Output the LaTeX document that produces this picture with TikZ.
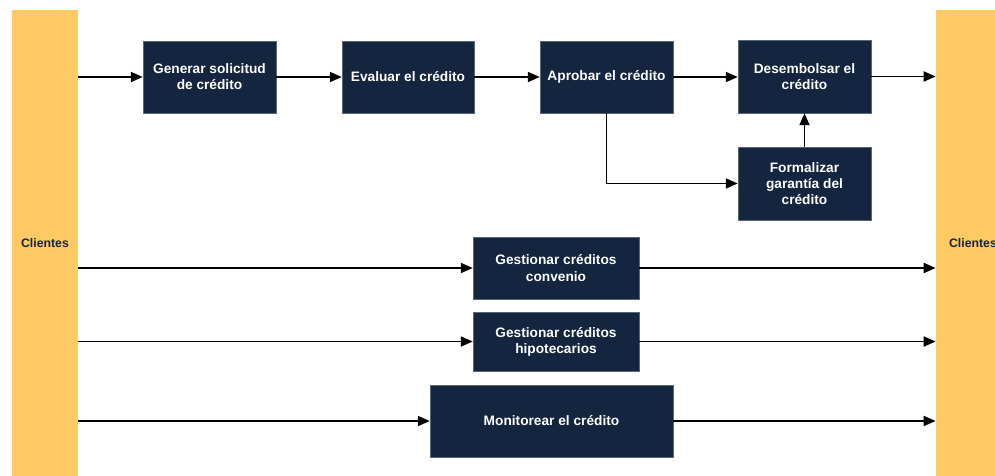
\documentclass[tikz,border=0pt]{standalone}
\usepackage{fontspec}
\setmainfont{Liberation Sans}
\usetikzlibrary{arrows.meta}
\definecolor{navy}{HTML}{13253F}
\definecolor{bar}{HTML}{FFC964}
\begin{document}
\begin{tikzpicture}[x=0.02cm,y=-0.02cm,
  proc/.style={fill=navy,draw=navy!70!white,line width=0.01cm,text=white,align=center,
    font=\fontsize{7.8}{9.2}\selectfont\bfseries,inner sep=0pt},
  client/.style={fill=bar,draw=none,minimum width=1.32cm,minimum height=9.32cm,inner sep=0pt,
    text=navy,font=\fontsize{7}{8}\selectfont\bfseries},
  flow/.style={line width=0.038cm,-{Triangle[length=0.24cm,width=0.2cm]}}]
  \useasboundingbox (0,0) rectangle (995,476);
  
  % Drawing client bars
  \node [client] (cl) at (45,243) {Clientes};
  \node [client,minimum width=1.48cm] (cr) at (973,243) {Clientes};
  
  % Drawing process boxes
  \node [proc,minimum width=2.66cm,minimum height=1.44cm] (gen) at (209.5,77) {Generar solicitud\\de cr\'edito};
  \node [proc,minimum width=2.64cm,minimum height=1.44cm] (eva) at (408,77) {Evaluar el cr\'edito};
  \node [proc,minimum width=2.66cm,minimum height=1.44cm] (apr) at (606.5,77) {Aprobar el cr\'edito};
  \node [proc,minimum width=2.66cm,minimum height=1.46cm] (des) at (804.5,76.5) {Desembolsar el\\cr\'edito};
  \node [proc,minimum width=2.66cm,minimum height=1.46cm] (for) at (804.5,183.5) {Formalizar\\garant\'ia del\\cr\'edito};
  \node [proc,minimum width=3.32cm,minimum height=1.24cm] (con) at (556,268) {Gestionar cr\'editos\\convenio};
  \node [proc,minimum width=3.32cm,minimum height=1.18cm] (hip) at (556,341.5) {Gestionar cr\'editos\\hipotecarios};
  \node [proc,minimum width=4.86cm,minimum height=1.44cm] (mon) at (551.5,421) {Monitorear el cr\'edito};
  
  % Drawing main flow
  \draw [flow] (cl.east |- gen.west) -- (gen.west);
  \draw [flow] (gen) -- (eva);
  \draw [flow] (eva) -- (apr);
  \draw [flow] (apr) -- (apr -| des.west);
  \draw [flow] (des.east) -- (cr.west |- des.east);
  
  % Drawing guarantee branch
  \draw [flow] (apr.south) |- (for.west);
  \draw [flow] (for) -- (des);
  
  % Drawing lower flows
  \draw [flow] (cl.east |- con.west) -- (con.west);
  \draw [flow] (con.east) -- (cr.west |- con.east);
  \draw [flow] (cl.east |- hip.west) -- (hip.west);
  \draw [flow] (hip.east) -- (cr.west |- hip.east);
  \draw [flow] (cl.east |- mon.west) -- (mon.west);
  \draw [flow] (mon.east) -- (cr.west |- mon.east);
\end{tikzpicture}
\end{document}
